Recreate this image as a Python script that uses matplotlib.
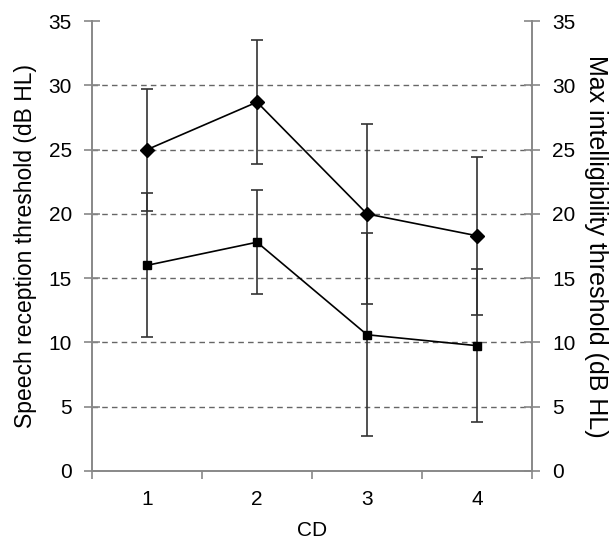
import matplotlib.pyplot as plt

plt.rcParams["font.family"] = ["Liberation Sans", "DejaVu Sans"]

# CD groups and mean thresholds with SD error bars
cd = [1, 2, 3, 4]
max_intel = [25.0, 28.7, 20.0, 18.3]
max_intel_err = [4.75, 4.85, 7.0, 6.15]
srt = [16.0, 17.8, 10.6, 9.75]
srt_err = [5.6, 4.05, 7.9, 5.95]

fig = plt.figure(figsize=(6.13, 5.42), dpi=100)
ax = fig.add_axes([0.150, 0.131, 0.718, 0.830])

ax.errorbar(cd, max_intel, yerr=max_intel_err, color="black", marker="D", markersize=7,
            linewidth=1.2, elinewidth=1.2, ecolor="#333333", capsize=4, capthick=1.2)
ax.errorbar(cd, srt, yerr=srt_err, color="black", marker="s", markersize=6,
            linewidth=1.2, elinewidth=1.2, ecolor="#333333", capsize=4, capthick=1.2)

ax.set_xlim(0.5, 4.5)
ax.set_ylim(0, 35)
ax.set_yticks(range(0, 36, 5))
ax.set_xticks(cd)
ax.set_xticks([0.5, 1.5, 2.5, 3.5, 4.5], minor=True)
ax.tick_params(axis="x", which="major", length=0, labelsize=15, pad=14)
ax.tick_params(axis="x", which="minor", length=6, color="#888888", width=1.2)
ax.tick_params(axis="y", direction="inout", length=12, color="#888888", width=1.2,
               labelsize=15, pad=8.5)

for y in range(5, 35, 5):
    ax.axhline(y, color="#666666", linestyle=(0, (4, 3)), linewidth=1.0, zorder=0)

ax.spines["top"].set_visible(False)
for s in ["left", "right", "bottom"]:
    ax.spines[s].set_color("#888888")
    ax.spines[s].set_linewidth(1.2)

ax.set_xlabel("CD", fontsize=15, labelpad=8)
ax.set_ylabel("Speech reception threshold (dB HL)", fontsize=16.5)
ax.yaxis.set_label_coords(-0.125, 0.5)

ax2 = ax.twinx()
ax2.set_ylim(0, 35)
ax2.set_yticks(range(0, 36, 5))
ax2.tick_params(axis="y", direction="inout", length=12, color="#888888", width=1.2,
                labelsize=15, pad=8.5)
ax2.spines["top"].set_visible(False)
for s in ["left", "right", "bottom"]:
    ax2.spines[s].set_color("#888888")
    ax2.spines[s].set_linewidth(1.2)
ax2.set_ylabel("Max intelligibility threshold (dB HL)", fontsize=18, rotation=270)
ax2.yaxis.set_label_coords(1.172, 0.5)

fig.savefig("out.png", dpi=100)
